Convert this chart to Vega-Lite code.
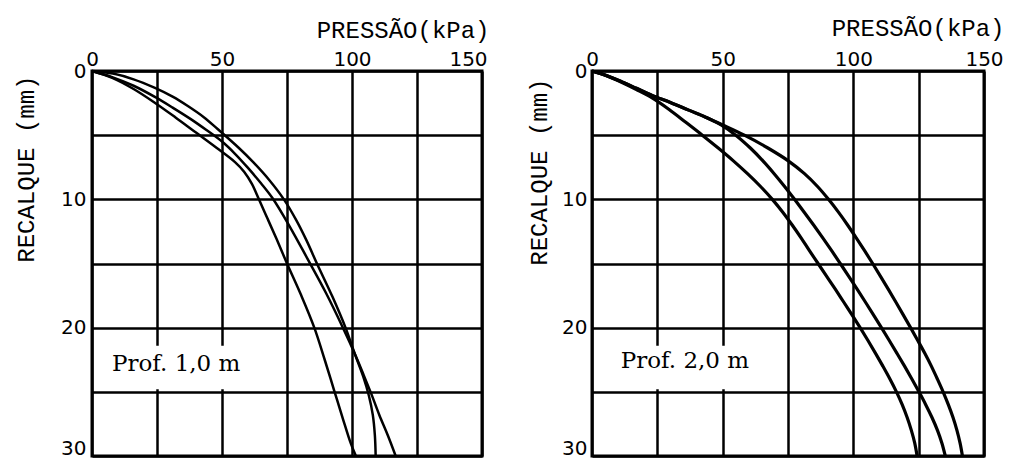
{
  "$schema": "https://vega.github.io/schema/vega-lite/v6.json",
  "background": "white",
  "padding": {"left": 12, "top": 14, "right": 0, "bottom": 0},
  "bounds": "flush",
  "spacing": 110,
  "datasets": {
    "c1": [
      {"c": "T", "P": 0, "s": 0}, {"c": "T", "P": 8, "s": 0.2}, {"c": "T", "P": 16, "s": 0.65}, {"c": "T", "P": 24, "s": 1.3}, {"c": "T", "P": 31, "s": 2.0}, {"c": "T", "P": 37, "s": 2.75}, {"c": "T", "P": 43, "s": 3.6}, {"c": "T", "P": 48.2, "s": 4.5}, {"c": "T", "P": 56.5, "s": 6.0}, {"c": "T", "P": 62, "s": 7.1}, {"c": "T", "P": 68, "s": 8.45}, {"c": "T", "P": 73.8, "s": 10}, {"c": "T", "P": 78.5, "s": 11.6}, {"c": "T", "P": 82.5, "s": 13.2}, {"c": "T", "P": 86.5, "s": 15}, {"c": "T", "P": 92.5, "s": 17.6}, {"c": "T", "P": 97.5, "s": 20}, {"c": "T", "P": 101, "s": 22}, {"c": "T", "P": 104.3, "s": 23.8}, {"c": "T", "P": 106.5, "s": 25.3}, {"c": "T", "P": 108, "s": 26.8}, {"c": "T", "P": 108.8, "s": 28.4}, {"c": "T", "P": 109.1, "s": 30},
      {"c": "M", "P": 0, "s": 0}, {"c": "M", "P": 8, "s": 0.5}, {"c": "M", "P": 16, "s": 1.15}, {"c": "M", "P": 24, "s": 2.0}, {"c": "M", "P": 31, "s": 2.85}, {"c": "M", "P": 38, "s": 3.75}, {"c": "M", "P": 44, "s": 4.6}, {"c": "M", "P": 50, "s": 5.5}, {"c": "M", "P": 55, "s": 6.45}, {"c": "M", "P": 60, "s": 7.55}, {"c": "M", "P": 65, "s": 8.75}, {"c": "M", "P": 69.4, "s": 9.9}, {"c": "M", "P": 76, "s": 12.1}, {"c": "M", "P": 82.8, "s": 14.6}, {"c": "M", "P": 90, "s": 17.3}, {"c": "M", "P": 96.5, "s": 20}, {"c": "M", "P": 101, "s": 22}, {"c": "M", "P": 104.5, "s": 23.7}, {"c": "M", "P": 107.5, "s": 25.2}, {"c": "M", "P": 110.5, "s": 26.8}, {"c": "M", "P": 113.8, "s": 28.4}, {"c": "M", "P": 116.8, "s": 30},
      {"c": "L", "P": 0, "s": 0}, {"c": "L", "P": 8, "s": 0.55}, {"c": "L", "P": 16, "s": 1.4}, {"c": "L", "P": 24, "s": 2.45}, {"c": "L", "P": 32, "s": 3.6}, {"c": "L", "P": 40, "s": 4.8}, {"c": "L", "P": 48, "s": 6.0}, {"c": "L", "P": 55, "s": 7.1}, {"c": "L", "P": 58.5, "s": 7.85}, {"c": "L", "P": 61.5, "s": 8.8}, {"c": "L", "P": 64.2, "s": 10}, {"c": "L", "P": 67.5, "s": 11.5}, {"c": "L", "P": 71, "s": 13.1}, {"c": "L", "P": 75, "s": 15}, {"c": "L", "P": 80.5, "s": 17.5}, {"c": "L", "P": 85.5, "s": 20}, {"c": "L", "P": 89.5, "s": 22.5}, {"c": "L", "P": 93, "s": 24.8}, {"c": "L", "P": 96.5, "s": 27.1}, {"c": "L", "P": 99.5, "s": 29}, {"c": "L", "P": 101.5, "s": 30}
    ],
    "c2": [
      {"c": "L", "P": 0, "s": 0}, {"c": "L", "P": 5.5, "s": 0.37}, {"c": "L", "P": 11.5, "s": 0.9}, {"c": "L", "P": 17, "s": 1.45}, {"c": "L", "P": 23, "s": 2.1}, {"c": "L", "P": 29.5, "s": 3}, {"c": "L", "P": 35.9, "s": 4}, {"c": "L", "P": 42.2, "s": 5}, {"c": "L", "P": 48.3, "s": 6}, {"c": "L", "P": 54.1, "s": 7}, {"c": "L", "P": 59.5, "s": 8}, {"c": "L", "P": 64.5, "s": 9}, {"c": "L", "P": 69, "s": 10}, {"c": "L", "P": 73, "s": 11}, {"c": "L", "P": 76.6, "s": 12}, {"c": "L", "P": 80, "s": 13}, {"c": "L", "P": 83.2, "s": 14}, {"c": "L", "P": 86.5, "s": 15}, {"c": "L", "P": 89.8, "s": 16}, {"c": "L", "P": 93.1, "s": 17}, {"c": "L", "P": 96.3, "s": 18}, {"c": "L", "P": 99.5, "s": 19}, {"c": "L", "P": 102.6, "s": 20}, {"c": "L", "P": 105.6, "s": 21}, {"c": "L", "P": 108.5, "s": 22}, {"c": "L", "P": 111.3, "s": 23}, {"c": "L", "P": 114, "s": 24}, {"c": "L", "P": 116.5, "s": 25}, {"c": "L", "P": 118.7, "s": 26}, {"c": "L", "P": 120.6, "s": 27}, {"c": "L", "P": 122.2, "s": 28}, {"c": "L", "P": 123.5, "s": 29}, {"c": "L", "P": 124.4, "s": 30},
      {"c": "M", "P": 0, "s": 0}, {"c": "M", "P": 5.5, "s": 0.35}, {"c": "M", "P": 11.5, "s": 0.85}, {"c": "M", "P": 17, "s": 1.35}, {"c": "M", "P": 23, "s": 1.9}, {"c": "M", "P": 30, "s": 2.45}, {"c": "M", "P": 37, "s": 3.05}, {"c": "M", "P": 43.5, "s": 3.6}, {"c": "M", "P": 49.4, "s": 4.2}, {"c": "M", "P": 55, "s": 5}, {"c": "M", "P": 60.6, "s": 6}, {"c": "M", "P": 65.4, "s": 7}, {"c": "M", "P": 69.7, "s": 8}, {"c": "M", "P": 73.7, "s": 9}, {"c": "M", "P": 77.5, "s": 10}, {"c": "M", "P": 81.2, "s": 11}, {"c": "M", "P": 84.8, "s": 12}, {"c": "M", "P": 88.3, "s": 13}, {"c": "M", "P": 91.7, "s": 14}, {"c": "M", "P": 95, "s": 15}, {"c": "M", "P": 98.25, "s": 16}, {"c": "M", "P": 101.45, "s": 17}, {"c": "M", "P": 104.6, "s": 18}, {"c": "M", "P": 107.7, "s": 19}, {"c": "M", "P": 110.75, "s": 20}, {"c": "M", "P": 113.75, "s": 21}, {"c": "M", "P": 116.7, "s": 22}, {"c": "M", "P": 119.6, "s": 23}, {"c": "M", "P": 122.4, "s": 24}, {"c": "M", "P": 125.1, "s": 25}, {"c": "M", "P": 127.7, "s": 26}, {"c": "M", "P": 130.1, "s": 27}, {"c": "M", "P": 132.2, "s": 28}, {"c": "M", "P": 133.9, "s": 29}, {"c": "M", "P": 135.2, "s": 30},
      {"c": "O", "P": 0, "s": 0}, {"c": "O", "P": 5.5, "s": 0.35}, {"c": "O", "P": 11.5, "s": 0.85}, {"c": "O", "P": 17, "s": 1.35}, {"c": "O", "P": 23, "s": 1.9}, {"c": "O", "P": 30, "s": 2.45}, {"c": "O", "P": 37, "s": 3.05}, {"c": "O", "P": 43.5, "s": 3.6}, {"c": "O", "P": 49.4, "s": 4.15}, {"c": "O", "P": 58.3, "s": 5}, {"c": "O", "P": 67.3, "s": 6}, {"c": "O", "P": 75.1, "s": 7}, {"c": "O", "P": 81.3, "s": 8}, {"c": "O", "P": 86.3, "s": 9}, {"c": "O", "P": 90.5, "s": 10}, {"c": "O", "P": 94.3, "s": 11}, {"c": "O", "P": 97.8, "s": 12}, {"c": "O", "P": 101.1, "s": 13}, {"c": "O", "P": 104.3, "s": 14}, {"c": "O", "P": 107.4, "s": 15}, {"c": "O", "P": 110.4, "s": 16}, {"c": "O", "P": 113.35, "s": 17}, {"c": "O", "P": 116.25, "s": 18}, {"c": "O", "P": 119.1, "s": 19}, {"c": "O", "P": 121.9, "s": 20}, {"c": "O", "P": 124.65, "s": 21}, {"c": "O", "P": 127.35, "s": 22}, {"c": "O", "P": 129.85, "s": 23}, {"c": "O", "P": 132.15, "s": 24}, {"c": "O", "P": 134.35, "s": 25}, {"c": "O", "P": 136.35, "s": 26}, {"c": "O", "P": 138.15, "s": 27}, {"c": "O", "P": 139.65, "s": 28}, {"c": "O", "P": 140.85, "s": 29}, {"c": "O", "P": 141.75, "s": 30}
    ]
  },
  "config": {
    "view": {"stroke": "black", "strokeWidth": 3},
    "axis": {
      "domain": false, "ticks": false, "tickSize": 0, "grid": true,
      "gridColor": "black", "gridWidth": 2.5, "gridOpacity": 1,
      "labelFont": "DejaVu Sans", "labelFontSize": 20, "labelColor": "black",
      "labelOverlap": false, "labelFlush": false,
      "titleFont": "Liberation Mono", "titleFontSize": 24, "titleFontWeight": "normal", "titleColor": "black"
    }
  },
  "hconcat": [
    {
      "width": 390, "height": 385,
      "layer": [
        {
          "data": {"values": [{"P0": 0.8, "P1": 62, "s0": 21.4, "s1": 24.8}]},
          "mark": {"type": "rect", "color": "white"},
          "encoding": {
            "x": {"field": "P0", "type": "quantitative", "scale": {"domain": [0, 150], "nice": false, "zero": false},
              "axis": {"orient": "top", "values": [0, 25, 50, 75, 100, 125, 150], "labelExpr": "datum.value % 50 === 0 ? datum.label : ''",
                "title": "PRESSÃO(kPa)", "titleX": 397, "titleY": -41, "titleAlign": "right", "titleBaseline": "middle",
                "labelPadding": 6, "labelBaseline": "alphabetic",
                "labelOffset": {"condition": {"test": "datum.value === 150", "value": -14}, "value": 0}}},
            "x2": {"field": "P1"},
            "y": {"field": "s0", "type": "quantitative", "scale": {"domain": [0, 30], "reverse": true, "nice": false, "zero": false},
              "axis": {"values": [0, 5, 10, 15, 20, 25, 30], "labelExpr": "datum.value % 10 === 0 ? datum.label : ''",
                "title": "RECALQUE (mm)", "titleX": -66, "titleY": 4, "titleAngle": -90, "titleAlign": "right", "titleBaseline": "middle",
                "labelPadding": 6, "labelBaseline": "middle",
                "labelOffset": {"condition": {"test": "datum.value === 30", "value": -8}, "value": 0}}},
            "y2": {"field": "s1"}
          }
        },
        {
          "data": {"name": "c1"},
          "mark": {"type": "line", "color": "black", "strokeWidth": 2.5, "interpolate": "catmull-rom"},
          "encoding": {
            "x": {"field": "P", "type": "quantitative"},
            "y": {"field": "s", "type": "quantitative"},
            "detail": {"field": "c"},
            "order": {"field": "s"}
          }
        },
        {
          "data": {"values": [{"P": 7.7, "s": 22.8, "t": "Prof. 1,0 m"}]},
          "mark": {"type": "text", "font": "DejaVu Serif", "fontSize": 23, "align": "left", "baseline": "middle", "color": "black"},
          "encoding": {
            "x": {"field": "P", "type": "quantitative"},
            "y": {"field": "s", "type": "quantitative"},
            "text": {"field": "t"}
          }
        }
      ]
    },
    {
      "width": 392, "height": 385,
      "layer": [
        {
          "data": {"values": [{"P0": 0.8, "P1": 62, "s0": 21.4, "s1": 24.8}]},
          "mark": {"type": "rect", "color": "white"},
          "encoding": {
            "x": {"field": "P0", "type": "quantitative", "scale": {"domain": [0, 150], "nice": false, "zero": false},
              "axis": {"orient": "top", "values": [0, 25, 50, 75, 100, 125, 150], "labelExpr": "datum.value % 50 === 0 ? datum.label : ''",
                "title": "PRESSÃO(kPa)", "titleX": 412, "titleY": -43, "titleAlign": "right", "titleBaseline": "middle",
                "labelPadding": 6, "labelBaseline": "alphabetic"}},
            "x2": {"field": "P1"},
            "y": {"field": "s0", "type": "quantitative", "scale": {"domain": [0, 30], "reverse": true, "nice": false, "zero": false},
              "axis": {"values": [0, 5, 10, 15, 20, 25, 30], "labelExpr": "datum.value % 10 === 0 ? datum.label : ''",
                "title": "RECALQUE (mm)", "titleX": -53, "titleY": 7, "titleAngle": -90, "titleAlign": "right", "titleBaseline": "middle",
                "labelPadding": 5, "labelBaseline": "middle",
                "labelOffset": {"condition": {"test": "datum.value === 30", "value": -8}, "value": 0}}},
            "y2": {"field": "s1"}
          }
        },
        {
          "data": {"name": "c2"},
          "mark": {"type": "line", "color": "black", "strokeWidth": 3.2, "interpolate": "catmull-rom"},
          "encoding": {
            "x": {"field": "P", "type": "quantitative"},
            "y": {"field": "s", "type": "quantitative"},
            "detail": {"field": "c"},
            "order": {"field": "s"}
          }
        },
        {
          "data": {"values": [{"P": 11, "s": 22.6, "t": "Prof. 2,0 m"}]},
          "mark": {"type": "text", "font": "DejaVu Serif", "fontSize": 23, "align": "left", "baseline": "middle", "color": "black"},
          "encoding": {
            "x": {"field": "P", "type": "quantitative"},
            "y": {"field": "s", "type": "quantitative"},
            "text": {"field": "t"}
          }
        }
      ]
    }
  ]
}
